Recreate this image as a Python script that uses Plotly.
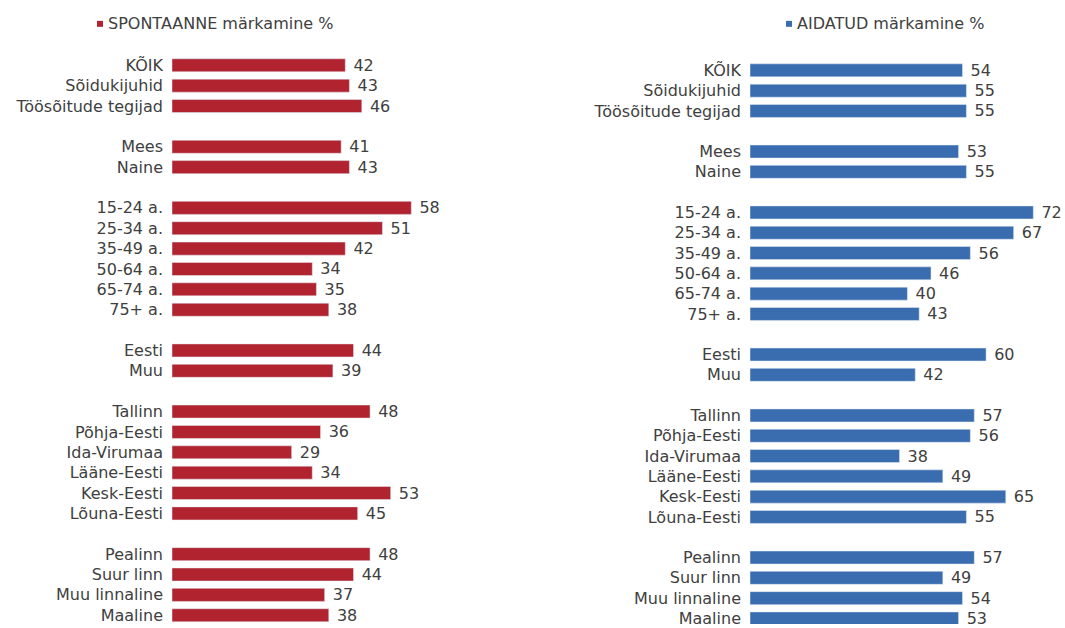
import plotly.graph_objects as go

groups = [
    ["KÕIK", "Sõidukijuhid", "Töösõitude tegijad"],
    ["Mees", "Naine"],
    ["15-24 a.", "25-34 a.", "35-49 a.", "50-64 a.", "65-74 a.", "75+ a."],
    ["Eesti", "Muu"],
    ["Tallinn", "Põhja-Eesti", "Ida-Virumaa", "Lääne-Eesti", "Kesk-Eesti", "Lõuna-Eesti"],
    ["Pealinn", "Suur linn", "Muu linnaline", "Maaline"],
]
spontaanne = [42, 43, 46, 41, 43, 58, 51, 42, 34, 35, 38, 44, 39,
              48, 36, 29, 34, 53, 45, 48, 44, 37, 38]
aidatud = [54, 55, 55, 53, 55, 72, 67, 56, 46, 40, 43, 60, 42,
           57, 56, 38, 49, 65, 55, 57, 49, 54, 53]
series_names = ["SPONTAANNE märkamine %", "AIDATUD märkamine %"]

RED = "#B0232F"
BLUE = "#3A6DAF"
TXT = "#404040"
FONT = "DejaVu Sans, Liberation Sans, Arial, sans-serif"
FS = 16

# slot positions: one blank slot between groups
labels, slots = [], []
s = 0
for g in groups:
    for name in g:
        labels.append(name)
        slots.append(s)
        s += 1
    s += 1

W, H = 1065, 628


def px(p):
    return p / W


def py(p):
    return 1 - p / H


fig = go.Figure()
fig.add_trace(go.Bar(x=spontaanne, y=slots, orientation="h", marker_color=RED,
                     texttemplate="\u00a0%{x}", textposition="outside",
                     constraintext="none",
                     textfont=dict(size=FS, color=TXT, family=FONT),
                     cliponaxis=False, xaxis="x", yaxis="y", showlegend=False))
fig.add_trace(go.Bar(x=aidatud, y=slots, orientation="h", marker_color=BLUE,
                     texttemplate="\u00a0%{x}", textposition="outside",
                     constraintext="none",
                     textfont=dict(size=FS, color=TXT, family=FONT),
                     cliponaxis=False, xaxis="x2", yaxis="y2", showlegend=False))

# panel geometry (page pixels)
l_x0, l_scale, l_x1 = 172, 4.126, 545
r_x0, r_scale, r_x1 = 750, 3.935, 1064
l_top, l_step = 65.7, 20.5
r_top, r_step = 70.8, 20.43

ax_common = dict(showgrid=False, zeroline=False, showline=False, ticks="",
                 tickfont=dict(size=FS, color=TXT, family=FONT), ticklabelstandoff=8,
                 ticklabeloverflow="allow")
fig.update_layout(
    width=W, height=H, margin=dict(l=0, r=0, t=0, b=0),
    paper_bgcolor="white", plot_bgcolor="white", bargap=0.36,
    font=dict(family=FONT, color=TXT),
    xaxis=dict(domain=[px(l_x0), px(l_x1)], range=[0, (l_x1 - l_x0) / l_scale], visible=False),
    xaxis2=dict(domain=[px(r_x0), px(r_x1)], range=[0, (r_x1 - r_x0) / r_scale], visible=False),
    yaxis=dict(anchor="x", domain=[0, py(l_top - l_step / 2)],
               range=[(H - l_top) / l_step, -0.5], tickvals=slots, ticktext=labels,
               **ax_common),
    yaxis2=dict(anchor="x2", domain=[0, py(r_top - r_step / 2)],
                range=[(H - r_top) / r_step, -0.5], tickvals=slots, ticktext=labels,
                **ax_common),
)

# legend-like titles
fig.add_shape(type="rect", xref="paper", yref="paper", x0=px(97), x1=px(103),
              y0=py(27), y1=py(21), fillcolor=RED, line_width=0)
fig.add_annotation(xref="paper", yref="paper", x=px(106), y=py(24), xanchor="left",
                   yanchor="middle", text=series_names[0], showarrow=False,
                   font=dict(size=FS, color=TXT, family=FONT))
fig.add_shape(type="rect", xref="paper", yref="paper", x0=px(786), x1=px(792),
              y0=py(27), y1=py(21), fillcolor=BLUE, line_width=0)
fig.add_annotation(xref="paper", yref="paper", x=px(795), y=py(24), xanchor="left",
                   yanchor="middle", text=series_names[1], showarrow=False,
                   font=dict(size=FS, color=TXT, family=FONT))

fig.write_html("out.html", config={"displayModeBar": False},
               post_script="document.body.style.margin='0';document.body.style.overflow='hidden';")
